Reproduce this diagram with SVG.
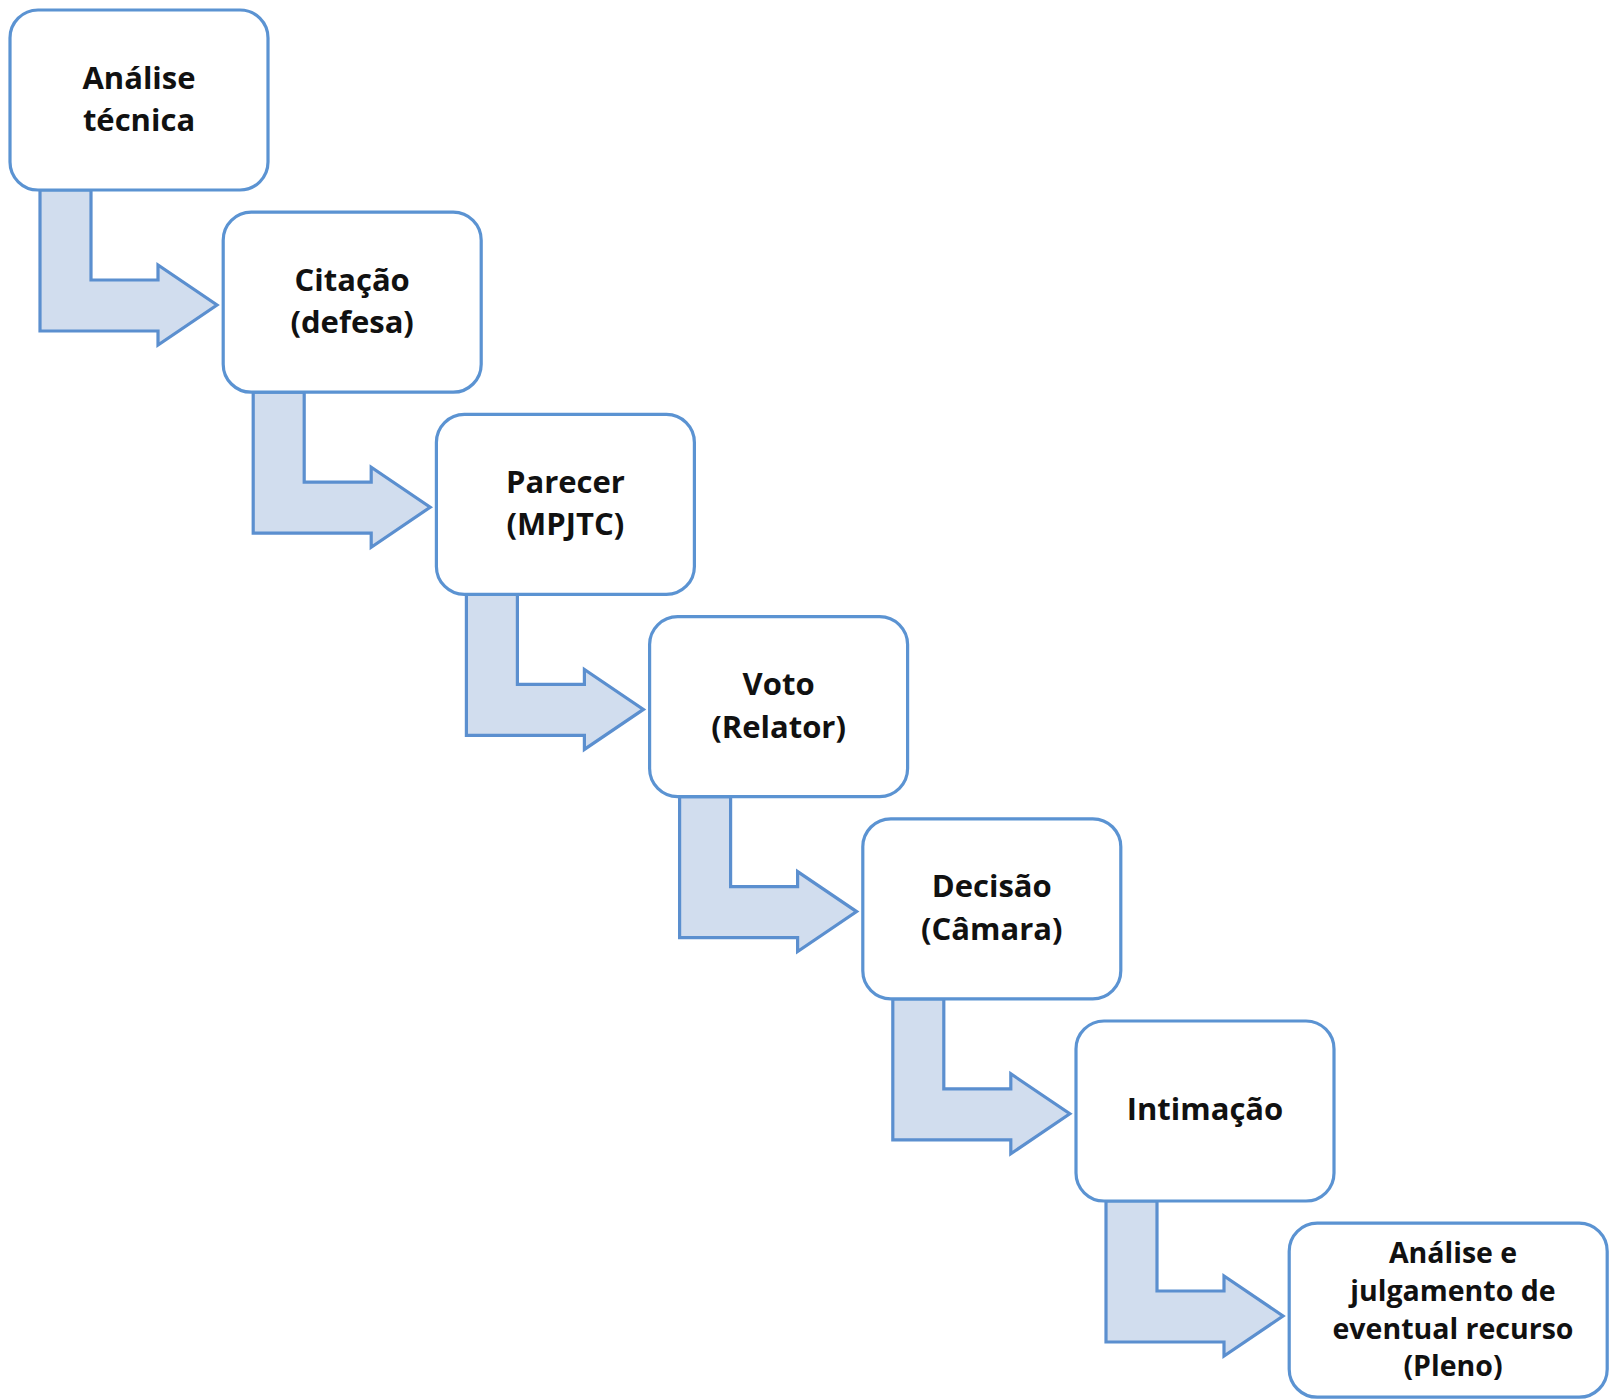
<svg xmlns="http://www.w3.org/2000/svg" width="1610" height="1399" viewBox="0 0 1610 1399">
<defs>
<style>
.box{fill:#ffffff;stroke:#5B93D2;stroke-width:3.2}
.arr{fill:#D1DDEE;stroke:#5B8FCF;stroke-width:3.2;stroke-linejoin:miter}
.t{font-family:"Open Sans","Liberation Sans",sans-serif;font-weight:bold;font-size:31px;fill:#111111;text-anchor:middle}
.s{font-size:28.5px}
</style>
<path id="bent" d="M40,190 L91,190 L91,280 L158,280 L158,265 L217,305 L158,345 L158,331 L40,331 Z"/>
</defs>
<rect width="1610" height="1399" fill="#ffffff"/>
<g id="connectors">
<use href="#bent" class="arr" transform="translate(0,0)"/>
<use href="#bent" class="arr" transform="translate(213.2,202.2)"/>
<use href="#bent" class="arr" transform="translate(426.4,404.4)"/>
<use href="#bent" class="arr" transform="translate(639.6,606.6)"/>
<use href="#bent" class="arr" transform="translate(852.8,808.8)"/>
<use href="#bent" class="arr" transform="translate(1066,1011)"/>
</g>
<g id="n1">
<rect class="box" x="10" y="10" width="258" height="180" rx="28"/>
<text class="t" x="139" y="88.5">Análise</text>
<text class="t" x="139" y="131">técnica</text>
</g>
<g id="n2">
<rect class="box" x="223.2" y="212.2" width="258" height="180" rx="28"/>
<text class="t" x="352.2" y="290.7">Citação</text>
<text class="t" x="352.2" y="333.2">(defesa)</text>
</g>
<g id="n3">
<rect class="box" x="436.4" y="414.4" width="258" height="180" rx="28"/>
<text class="t" x="565.4" y="492.9">Parecer</text>
<text class="t" x="565.4" y="535.4">(MPJTC)</text>
</g>
<g id="n4">
<rect class="box" x="649.6" y="616.6" width="258" height="180" rx="28"/>
<text class="t" x="778.6" y="695.1">Voto</text>
<text class="t" x="778.6" y="737.6">(Relator)</text>
</g>
<g id="n5">
<rect class="box" x="862.8" y="818.8" width="258" height="180" rx="28"/>
<text class="t" x="991.8" y="897.3">Decisão</text>
<text class="t" x="991.8" y="939.8">(Câmara)</text>
</g>
<g id="n6">
<rect class="box" x="1076" y="1021" width="258" height="180" rx="28"/>
<text class="t" x="1205" y="1120">Intimação</text>
</g>
<g id="n7">
<rect class="box" x="1289.2" y="1223.2" width="318" height="174" rx="28"/>
<text class="t s" x="1453" y="1263">Análise e</text>
<text class="t s" x="1453" y="1301">julgamento de</text>
<text class="t s" x="1453" y="1339">eventual recurso</text>
<text class="t s" x="1453" y="1376">(Pleno)</text>
</g>
</svg>
